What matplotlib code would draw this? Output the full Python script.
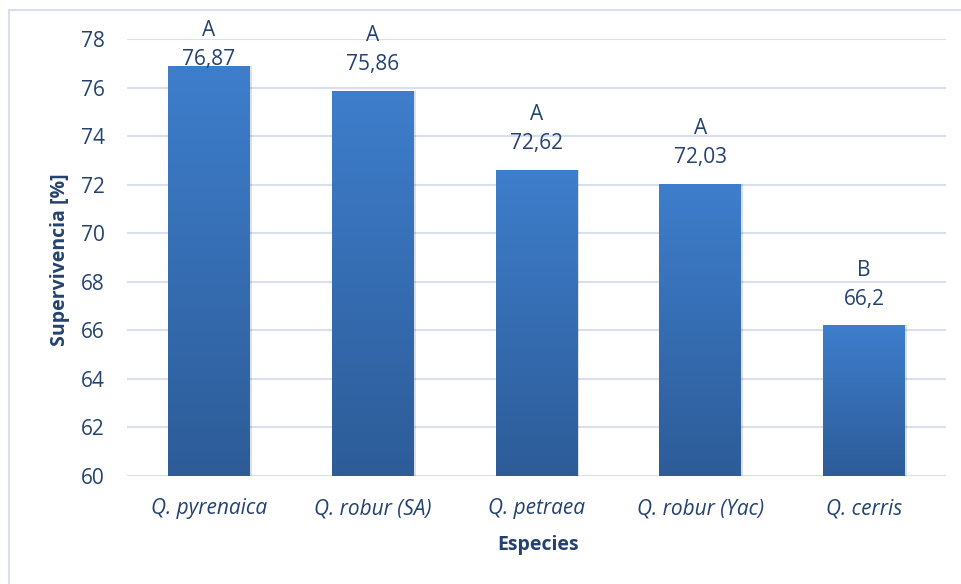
import matplotlib
matplotlib.use("Agg")
import matplotlib.pyplot as plt
import numpy as np
from matplotlib.patches import Rectangle
from matplotlib.colors import LinearSegmentedColormap

especies = ["Q. pyrenaica", "Q. robur (SA)", "Q. petraea", "Q. robur (Yac)", "Q. cerris"]
supervivencia = [76.87, 75.86, 72.62, 72.03, 66.2]
grupos = ["A", "A", "A", "A", "B"]
y_ticks = [60, 62, 64, 66, 68, 70, 72, 74, 76, 78]

plt.rcParams['font.family'] = ['Open Sans', 'DejaVu Sans']
text_color = "#24426F"
grid_color = "#D6E0F0"

fig = plt.figure(figsize=(9.62, 5.84), dpi=100)
fig.patch.set_facecolor("white")

# light outline of the chart frame
fig.patches.append(Rectangle((9 / 962, -0.05), 1.2, 1 - 10 / 584 + 0.05,
                             transform=fig.transFigure, fill=False,
                             edgecolor=grid_color, linewidth=1.5))

ax = fig.add_axes([127 / 962, 1 - 476 / 584, (946 - 127) / 962, (476 - 39) / 584])
ax.set_ylim(60, 78)
ax.set_xlim(-0.5, len(especies) - 0.5)
ax.set_yticks(y_ticks)
ax.yaxis.grid(True, color=grid_color, linewidth=1.5)
ax.set_axisbelow(True)
for s in ax.spines.values():
    s.set_visible(False)
ax.axhline(60, color=grid_color, linewidth=1.5, zorder=1)
ax.tick_params(axis="both", length=0, colors=text_color, labelsize=15)
ax.tick_params(axis="y", pad=16)
ax.tick_params(axis="x", pad=16)

x = np.arange(len(especies))
bars = ax.bar(x, supervivencia, width=0.5, color="none", zorder=2)

cmap = LinearSegmentedColormap.from_list("barra", ["#2D5C98", "#3E7ECC"])
grad = np.linspace(0, 1, 256).reshape(-1, 1)
for b in bars:
    x0, w, h = b.get_x(), b.get_width(), b.get_height()
    # soft shadow
    ax.add_patch(Rectangle((x0 + 0.012, 60), w, h - 60, facecolor="#000000",
                           alpha=0.12, edgecolor="none", zorder=2))
    im = ax.imshow(grad, extent=(x0, x0 + w, 60, h), origin="lower",
                   cmap=cmap, aspect="auto", zorder=3)
    im.set_clip_path(b)
    b.set_zorder(3)

ax.set_xticks(x)
ax.set_xticklabels(especies, style="italic")

for xi, v, g in zip(x, supervivencia, grupos):
    vy = min(v + 1.07, 77.14)
    ax.text(xi, vy, f"{v:g}".replace(".", ","), ha="center", va="center",
            color=text_color, fontsize=15, zorder=5, clip_on=False)
    ax.text(xi, vy + 1.2, g, ha="center", va="center",
            color=text_color, fontsize=15, zorder=5, clip_on=False)

ax.set_xlim(-0.5, len(especies) - 0.5)
ax.set_ylim(60, 78)

fig.text(60 / 962, 1 - 260 / 584, "Supervivencia [%]", rotation=90, ha="center",
         va="center", color=text_color, fontsize=14, fontweight="bold")
fig.text(538 / 962, 1 - 545 / 584, "Especies", ha="center", va="center",
         color=text_color, fontsize=14, fontweight="bold")

fig.savefig("out.png", dpi=100)
